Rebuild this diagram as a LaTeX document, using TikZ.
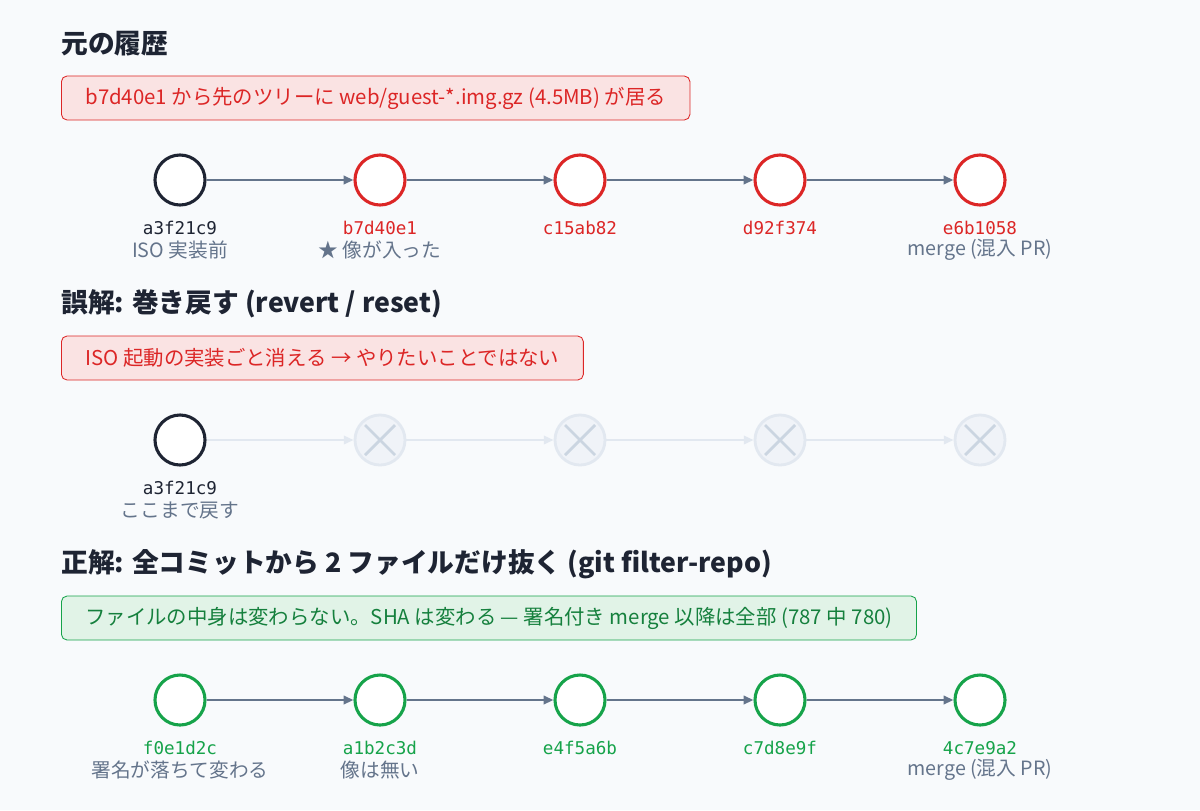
\documentclass[tikz,border=0pt]{standalone}
\usepackage{fontspec}
\setmainfont{Noto Sans CJK JP}
\newfontfamily\hashfont{DejaVu Sans Mono}
\usetikzlibrary{positioning,arrows.meta}
\definecolor{ink}{HTML}{1E2433}
\definecolor{bad}{HTML}{DC2626}
\definecolor{good}{HTML}{16A34A}
\definecolor{goodtext}{HTML}{15803D}
\definecolor{muted}{HTML}{64748B}
\definecolor{faded}{HTML}{E2E8F0}
\definecolor{fadedx}{HTML}{CBD5E1}
\definecolor{page}{HTML}{F8FAFC}
\begin{document}
\begin{tikzpicture}[x=0.025cm, y=-0.025cm]
  \tikzset{
    commit/.style={circle, draw=#1, line width=2.2pt, fill=white, minimum size=1.25cm, inner sep=0pt},
    gone/.style={circle, draw=faded, line width=2pt, fill=faded!50, minimum size=1.25cm, inner sep=0pt},
    link/.style={draw=muted, line width=1.6pt, -{Triangle[length=7pt,width=6pt]}},
    deadlink/.style={draw=faded, line width=1.6pt, -{Triangle[length=7pt,width=6pt]}},
    heading/.style={anchor=west, inner sep=0pt, font=\bfseries\fontsize{19}{22}\selectfont, text=ink},
    banner/.style={anchor=west, rounded corners=4pt, draw=#1, fill=#1!13, line width=0.6pt,
      minimum height=1.1cm, inner xsep=0.6cm, font=\fontsize{14.5}{17}\selectfont},
    hash/.style={font=\hashfont\fontsize{12.5}{14}\selectfont, text=#1},
    note/.style={font=\fontsize{14}{16}\selectfont, text=muted}
  }
  \fill[page] (0,0) rectangle (1200,810);
  \useasboundingbox (0,0) rectangle (1200,810);

  % 元の履歴
  \node[heading] (h1) at (61,44) {元の履歴};
  \node[banner=bad, text=bad] (b1) at (61,98) {b7d40e1 から先のツリーに web/guest-*.img.gz (4.5MB) が居る};
  \node[commit=ink] (a1) at (180,180) {};
  \foreach \i/\x in {2/380,3/580,4/780,5/980}
    \node[commit=bad] (a\i) at (\x,180) {};
  \foreach \i [count=\j from 2] in {1,...,4}
    \draw[link] (a\i) -- (a\j);
  \node[hash=ink] at (180,228) {a3f21c9};
  \node[note] at (180,250) {ISO 実装前};
  \node[hash=bad] at (380,228) {b7d40e1};
  \node[note] at (380,250) {★ 像が入った};
  \node[hash=bad] at (580,228) {c15ab82};
  \node[hash=bad] at (780,228) {d92f374};
  \node[hash=bad] at (980,228) {e6b1058};
  \node[note] at (980,250) {merge (混入 PR)};

  % 誤解
  \node[heading] (h2) at (61,304) {誤解: 巻き戻す (revert / reset)};
  \node[banner=bad, text=bad] (b2) at (61,358) {ISO 起動の実装ごと消える → やりたいことではない};
  \node[commit=ink] (r1) at (180,440) {};
  \foreach \i/\x in {2/380,3/580,4/780,5/980}{
    \node[gone] (r\i) at (\x,440) {};
    \draw[fadedx, line width=2pt] (\x-15,425) -- (\x+15,455) (\x-15,455) -- (\x+15,425);
  }
  \foreach \i [count=\j from 2] in {1,...,4}
    \draw[deadlink] (r\i) -- (r\j);
  \node[hash=ink] at (180,488) {a3f21c9};
  \node[note] at (180,510) {ここまで戻す};

  % 正解
  \node[heading] (h3) at (61,564) {正解: 全コミットから 2 ファイルだけ抜く (git filter-repo)};
  \node[banner=good, text=goodtext] (b3) at (61,618) {ファイルの中身は変わらない。SHA は変わる — 署名付き merge 以降は全部 (787 中 780)};
  \foreach \i/\x in {1/180,2/380,3/580,4/780,5/980}
    \node[commit=good] (g\i) at (\x,700) {};
  \foreach \i [count=\j from 2] in {1,...,4}
    \draw[link] (g\i) -- (g\j);
  \node[hash=good] at (180,748) {f0e1d2c};
  \node[note] at (180,770) {署名が落ちて変わる};
  \node[hash=good] at (380,748) {a1b2c3d};
  \node[note] at (380,770) {像は無い};
  \node[hash=good] at (580,748) {e4f5a6b};
  \node[hash=good] at (780,748) {c7d8e9f};
  \node[hash=good] at (980,748) {4c7e9a2};
  \node[note] at (980,770) {merge (混入 PR)};
\end{tikzpicture}
\end{document}
